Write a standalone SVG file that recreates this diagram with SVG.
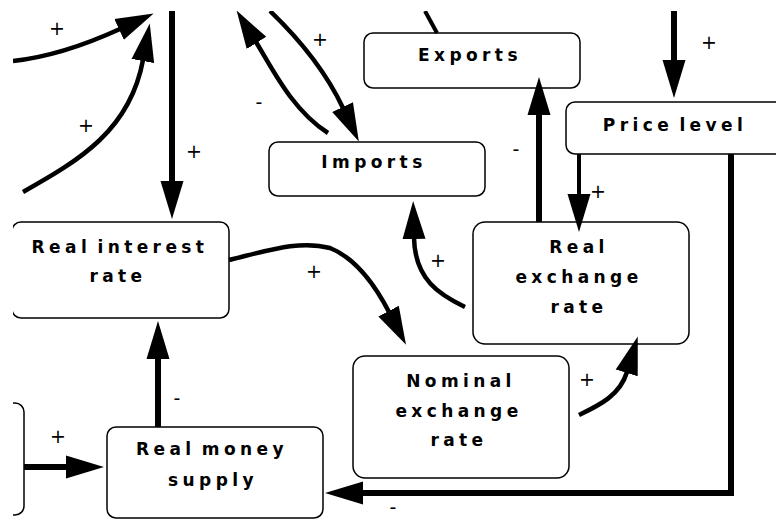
<svg xmlns="http://www.w3.org/2000/svg" width="776" height="519" viewBox="0 0 776 519">
  <style>
    .node rect { fill: #ffffff; stroke: #000000; stroke-width: 1.5; }
    .label { font-family: "DejaVu Sans", "Liberation Sans", sans-serif; font-weight: bold; font-size: 17px; letter-spacing: 4.4px; word-spacing: -4px; text-anchor: middle; fill: #000000; }
    .link { fill: none; stroke: #000000; stroke-linecap: butt; stroke-linejoin: miter; }
    .thick { stroke-width: 6; }
    .mid { stroke-width: 4.5; }
    .thin { stroke-width: 4; }
    .sign { font-family: "DejaVu Sans", "Liberation Sans", sans-serif; font-size: 19px; text-anchor: middle; fill: #000000; }
  </style>
  <defs>
    <clipPath id="frame">
      <rect x="13" y="11" width="763" height="508"/>
    </clipPath>
    <marker id="head" markerUnits="userSpaceOnUse" viewBox="0 -13 40 26" refX="1" refY="0" markerWidth="40" markerHeight="26" orient="auto">
      <path d="M0,-11.5 L38,0 L0,11.5 Z" fill="#000000"/>
    </marker>
  </defs>
  <rect width="776" height="519" fill="#ffffff"/>
  <g clip-path="url(#frame)">
    <!-- nodes -->
    <g id="node-exports" class="node">
      <rect x="364" y="33" width="216" height="55" rx="9"/>
      <text class="label" x="470" y="61">Exports</text>
    </g>
    <g id="node-imports" class="node">
      <rect x="269" y="142" width="216" height="54" rx="9"/>
      <text class="label" x="374" y="168">Imports</text>
    </g>
    <g id="node-price-level" class="node">
      <rect x="566" y="102" width="250" height="52" rx="9"/>
      <text class="label" x="675" y="131">Price level</text>
    </g>
    <g id="node-real-interest-rate" class="node">
      <rect x="12" y="222" width="217" height="96" rx="9"/>
      <text class="label" x="120" y="253">Real interest</text>
      <text class="label" x="118" y="282">rate</text>
    </g>
    <g id="node-real-exchange-rate" class="node">
      <rect x="473" y="222" width="216" height="122" rx="12"/>
      <text class="label" x="579" y="253">Real</text>
      <text class="label" x="579" y="283">exchange</text>
      <text class="label" x="579" y="313">rate</text>
    </g>
    <g id="node-nominal-exchange-rate" class="node">
      <rect x="353" y="356" width="216" height="122" rx="12"/>
      <text class="label" x="461" y="387">Nominal</text>
      <text class="label" x="459" y="417">exchange</text>
      <text class="label" x="459" y="446">rate</text>
    </g>
    <g id="node-real-money-supply" class="node">
      <rect x="107" y="427" width="216" height="91" rx="9"/>
      <text class="label" x="212" y="455">Real money</text>
      <text class="label" x="213" y="486">supply</text>
    </g>
    <g id="node-left" class="node">
      <rect x="-120" y="403" width="144" height="112" rx="9"/>
    </g>

    <!-- connectors -->
    <g id="connectors">
      <path class="link mid" d="M13,61 C50,57 85,45 120,29" marker-end="url(#head)"/>
      <path class="link mid" d="M23,192 C80,160 130,130 143,60" marker-end="url(#head)"/>
      <path class="link thick" d="M172,11 V182" marker-end="url(#head)"/>
      <path class="link mid" d="M328,133 C292,110 272,68 256,42" marker-end="url(#head)"/>
      <path class="link mid" d="M270,11 C295,35 325,70 343,108" marker-end="url(#head)"/>
      <path class="link thin" d="M425,11 L437,33"/>
      <path class="link thick" d="M674,11 V61" marker-end="url(#head)"/>
      <path class="link thick" d="M539,222 V114" marker-end="url(#head)"/>
      <path class="link thin" d="M579,154 V195" marker-end="url(#head)"/>
      <path class="link mid" d="M465,307 C440,295 415,280 414,238" marker-end="url(#head)"/>
      <path class="link mid" d="M229,260 C270,250 300,240 330,248 C355,258 375,285 389,312" marker-end="url(#head)"/>
      <path class="link mid" d="M579,415 C600,405 620,395 627,372" marker-end="url(#head)"/>
      <path class="link thick" d="M731,154 V493 H362" marker-end="url(#head)"/>
      <path class="link thick" d="M158,427 V358" marker-end="url(#head)"/>
      <path class="link thick" d="M24,467 H67" marker-end="url(#head)"/>
    </g>

    <!-- polarity signs -->
    <g id="signs">
      <text class="sign" x="57" y="35">+</text>
      <text class="sign" x="86" y="132">+</text>
      <text class="sign" x="194" y="158">+</text>
      <text class="sign" x="259" y="109">-</text>
      <text class="sign" x="320" y="46">+</text>
      <text class="sign" x="709" y="49">+</text>
      <text class="sign" x="516" y="156">-</text>
      <text class="sign" x="598" y="198">+</text>
      <text class="sign" x="438" y="267">+</text>
      <text class="sign" x="314" y="278">+</text>
      <text class="sign" x="587" y="386">+</text>
      <text class="sign" x="393" y="514">-</text>
      <text class="sign" x="177" y="405">-</text>
      <text class="sign" x="58" y="443">+</text>
    </g>
  </g>
</svg>
